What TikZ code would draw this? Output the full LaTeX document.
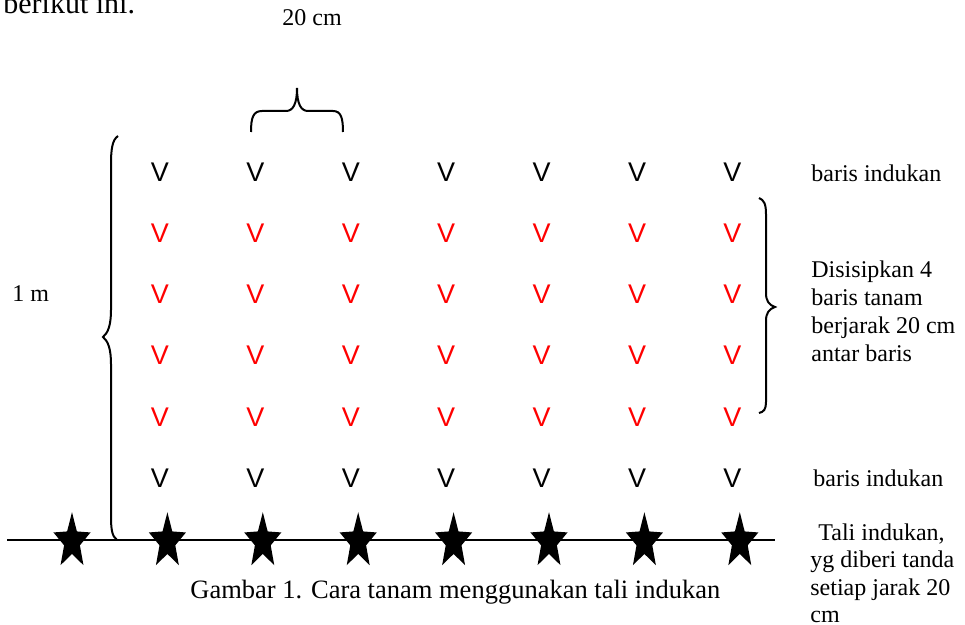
\documentclass[tikz,border=0pt]{standalone}
\usepackage{fontspec}
\setmainfont{Liberation Serif}
\newfontfamily\sansv{Liberation Sans}
\usetikzlibrary{shapes.geometric}
\tikzset{
    testo/.style={anchor=base west,inner sep=0pt,align=left,font=\fontsize{12}{14}\selectfont},
    tanaman/.style={inner sep=0pt,font=\sansv\fontsize{13.5}{15}\selectfont},
    penanda/.style={star,star points=5,star point ratio=2.35,fill=black,draw=none,
        minimum size=19.5pt,inner sep=0pt,yscale=1.5},
    graffa/.style={line width=1pt}
}
\begin{document}
\begin{tikzpicture}[x=0.5pt,y=-0.5pt]
    \useasboundingbox (0,0) rectangle (965,625);

    % Testo sopra (tagliato)
    \node[testo,font=\fontsize{15}{17}\selectfont] (berikut) at (3,14) {berikut ini.};

    % Jarak antar tanaman
    \node[testo] (jarak) at (282,26) {20 cm};
    \draw[graffa] (251,132) .. controls (251,118) and (253,111) .. (262,111) -- (286,111)
        .. controls (293,111) and (297,104) .. (297,88)
        .. controls (297,104) and (301,111) .. (308,111) -- (333,111)
        .. controls (341,111) and (343,118) .. (343,132);

    % Jarak 1 m
    \node[testo] (satu-m) at (12,302) {1 m};
    \draw[graffa] (118,136) .. controls (112,140) and (111,150) .. (111,165) -- (111,310)
        .. controls (111,325) and (108,333) .. (103,337)
        .. controls (108,341) and (111,349) .. (111,364) -- (111,515)
        .. controls (111,530) and (112,536) .. (117,540);

    % Tanaman
    \foreach \i in {0,...,6} {
        \node[tanaman] (atas-\i) at (160+95.4*\i,172) {V};
        \node[tanaman] (bawah-\i) at (160+95.4*\i,478) {V};
        \foreach \j in {1,...,4}
            \node[tanaman,red] (sisip-\i-\j) at (160+95.4*\i,172+61.2*\j) {V};
    }

    % Baris yang disisipkan
    \draw[graffa] (759,198) .. controls (764,200) and (766,204) .. (766,214) -- (766,293)
        .. controls (766,301) and (769,305) .. (775,307)
        .. controls (769,309) and (766,313) .. (766,321) -- (766,402)
        .. controls (766,409) and (764,412) .. (759,413);

    % Tali indukan
    \coordinate (tali-kiri) at (7,540);
    \coordinate (tali-kanan) at (775,540);
    \draw[line width=1pt] (tali-kiri) -- (tali-kanan);
    \foreach \i in {0,...,7}
        \node[penanda] (tanda-\i) at (72+95.4*\i,541.5) {};

    % Keterangan (base = ultima riga)
    \node[testo] (induk-atas) at (811,182) {baris indukan};
    \node[testo] (induk-bawah) at (813,487) {baris indukan};
    \node[testo] (sisip) at (811,362)
        {Disisipkan 4\\baris tanam\\berjarak 20 cm\\antar baris};
    \node[testo,font=\fontsize{12}{13.75}\selectfont] (tali) at (810,623)
        {\hspace*{4pt}Tali indukan,\\yg diberi tanda\\setiap jarak 20\\cm};

    % Judul
    \node[testo,font=\fontsize{13.25}{15}\selectfont] (judul) at (190,599)
        {Gambar 1. Cara tanam menggunakan tali indukan};
\end{tikzpicture}
\end{document}
